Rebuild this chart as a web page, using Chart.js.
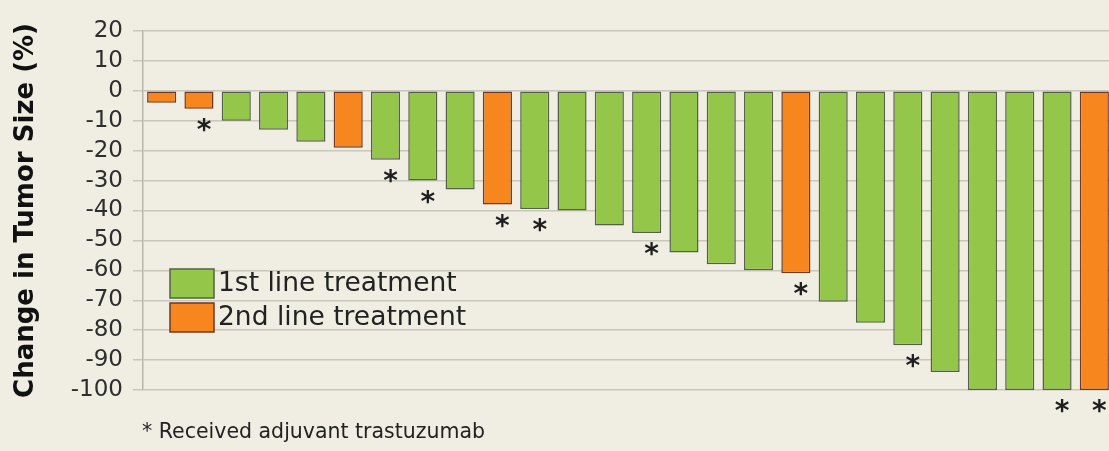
<!DOCTYPE html>
<html>
<head>
<meta charset="utf-8">
<script src="https://cdn.jsdelivr.net/npm/chart.js@4.4.0/dist/chart.umd.min.js"></script>
<style>
  html, body { margin: 0; padding: 0; background: #f0ede2; overflow: hidden; }
  #wrap { position: relative; width: 1113px; height: 451px; }
</style>
</head>
<body>
<div id="wrap"><canvas id="myChart"></canvas></div>
<script>
// one bar per patient, sorted waterfall-style
const patients = ["1","2","3","4","5","6","7","8","9","10","11","12","13","14","15","16","17","18","19","20","21","22","23","24","25","26"];
const tumorChange = [-4, -6, -10, -13, -17, -19, -23, -30, -33, -38, -39.5, -40, -45, -47.5, -54, -58, -60, -61, -70.5, -77.5, -85, -94, -100, -100, -100, -100];
// 1 = 1st line, 2 = 2nd line
const treatmentLine = [2, 2, 1, 1, 1, 2, 1, 1, 1, 2, 1, 1, 1, 1, 1, 1, 1, 2, 1, 1, 1, 1, 1, 1, 1, 2];
// 1 = received adjuvant trastuzumab (marked with *)
const adjuvant = [0, 1, 0, 0, 0, 0, 1, 1, 0, 1, 1, 0, 0, 1, 0, 0, 0, 1, 0, 0, 1, 0, 0, 0, 1, 1];
const legendLabels = ["1st line treatment", "2nd line treatment"];
const yMin = -100, yMax = 20, yStep = 10;
const yTitle = "Change in Tumor Size (%)";
const footnote = "* Received adjuvant trastuzumab";

const FONT = "'DejaVu Sans', Verdana, sans-serif";
const fill = { 1: "#94c64a", 2: "#f7861f" };
const edge = { 1: "#55604a", 2: "#6e3a24" };

const extras = {
  id: "extras",
  afterDatasetsDraw(chart) {
    const ctx = chart.ctx;
    const meta = chart.getDatasetMeta(0);
    ctx.save();
    ctx.fillStyle = "#1e1e1e";
    ctx.font = "bold 28px " + FONT;
    ctx.textAlign = "center";
    ctx.textBaseline = "alphabetic";
    meta.data.forEach((bar, i) => {
      if (adjuvant[i]) ctx.fillText("*", bar.x + 5, bar.y + 30);
    });

    // legend inside the plot
    const lx = chart.chartArea.left + 27;
    const ly = [269, 303];
    ctx.font = "26.5px " + FONT;
    ctx.textAlign = "left";
    ctx.textBaseline = "middle";
    legendLabels.forEach((lab, k) => {
      ctx.fillStyle = fill[k + 1];
      ctx.strokeStyle = edge[k + 1];
      ctx.lineWidth = 1.5;
      ctx.fillRect(lx, ly[k], 44, 29);
      ctx.strokeRect(lx, ly[k], 44, 29);
      ctx.fillStyle = "#222";
      ctx.fillText(lab, lx + 48, ly[k] + 15);
    });

    // footnote
    ctx.font = "20.5px " + FONT;
    ctx.fillText(footnote, chart.chartArea.left - 1, 433);
    ctx.restore();
  }
};

new Chart(document.getElementById("myChart"), {
  type: "bar",
  data: {
    labels: patients,
    datasets: [{
      data: tumorChange,
      backgroundColor: treatmentLine.map(t => fill[t]),
      borderColor: treatmentLine.map(t => edge[t]),
      borderWidth: 1.5,
      borderSkipped: false,
      barPercentage: 0.78,
      categoryPercentage: 1
    }]
  },
  options: {
    responsive: true,
    maintainAspectRatio: false,
    animation: false,
    layout: { padding: { top: 31, bottom: 61, left: 0, right: 0 } },
    plugins: { legend: { display: false }, tooltip: { enabled: false } },
    scales: {
      x: { display: false },
      y: {
        min: yMin,
        max: yMax,
        afterFit: s => { s.width = 143; },
        ticks: {
          stepSize: yStep,
          autoSkip: false,
          color: "#2e2e2e",
          padding: 10,
          font: { family: FONT, size: 23, lineHeight: 1 }
        },
        grid: { color: "#c9c6bb", lineWidth: 1.5, tickLength: 10 },
        border: { color: "#b8b5aa", width: 1.5 },
        title: {
          display: true,
          text: yTitle,
          color: "#111",
          font: { family: FONT, size: 26, weight: "bold" },
          padding: { top: 11, bottom: 0 }
        }
      }
    }
  },
  plugins: [extras]
});
</script>
</body>
</html>
